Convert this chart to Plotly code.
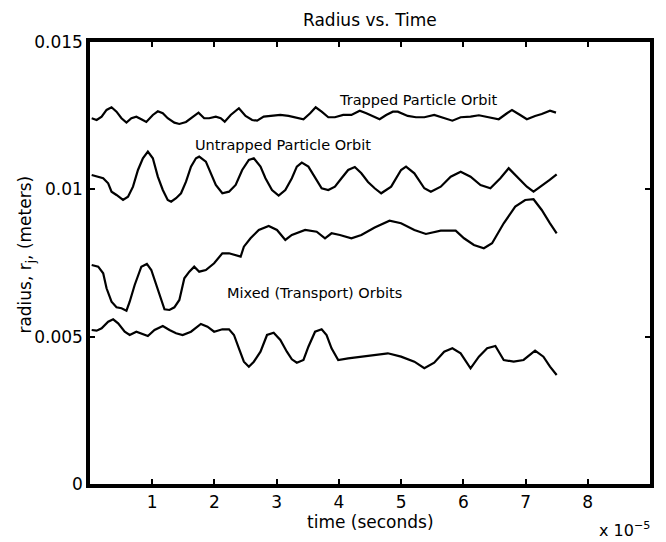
import plotly.graph_objects as go

# time in units of 1e-5 s, radius in meters
trapped_t = [0.027,0.107,0.187,0.266,0.346,0.426,0.506,0.586,0.665,0.745,0.825,0.905,1.010,1.090,1.170,1.249,1.356,1.436,1.543,1.648,1.744,1.835,1.915,2.022,2.101,2.165,2.261,2.393,2.500,2.606,2.686,2.792,2.925,3.059,3.191,3.298,3.431,3.538,3.627,3.723,3.830,3.936,4.069,4.201,4.335,4.441,4.548,4.655,4.760,4.867,4.947,5.106,5.239,5.373,5.532,5.665,5.824,5.957,6.116,6.250,6.435,6.569,6.702,6.782,6.914,7.021,7.153,7.260,7.393,7.489]
trapped_r = [0.012412,0.012354,0.012466,0.012694,0.012785,0.012636,0.012412,0.012263,0.012412,0.012466,0.012378,0.012286,0.012524,0.012649,0.012582,0.012412,0.012263,0.012218,0.012286,0.012446,0.012602,0.012412,0.012412,0.012466,0.012412,0.012297,0.012524,0.012751,0.012490,0.012354,0.012330,0.012466,0.012500,0.012524,0.012490,0.012446,0.012378,0.012582,0.012785,0.012636,0.012446,0.012446,0.012524,0.012524,0.012670,0.012582,0.012490,0.012378,0.012524,0.012636,0.012636,0.012490,0.012446,0.012446,0.012524,0.012446,0.012330,0.012446,0.012466,0.012514,0.012446,0.012378,0.012582,0.012694,0.012524,0.012378,0.012490,0.012558,0.012670,0.012602]

untrapped_t = [0.027,0.107,0.212,0.292,0.346,0.426,0.531,0.611,0.691,0.771,0.850,0.930,1.010,1.090,1.170,1.249,1.304,1.383,1.463,1.543,1.623,1.703,1.755,1.862,1.942,2.022,2.127,2.234,2.341,2.446,2.553,2.633,2.740,2.820,2.925,3.032,3.139,3.244,3.324,3.404,3.510,3.617,3.723,3.830,3.936,4.042,4.149,4.256,4.361,4.468,4.575,4.680,4.840,4.999,5.079,5.213,5.373,5.478,5.637,5.797,5.957,6.116,6.276,6.435,6.595,6.729,6.861,7.021,7.128,7.287,7.388,7.500]
untrapped_r = [0.010487,0.010430,0.010375,0.010206,0.009921,0.009809,0.009639,0.009751,0.010090,0.010657,0.011054,0.011278,0.011054,0.010430,0.009978,0.009639,0.009581,0.009697,0.009866,0.010260,0.010769,0.011054,0.011109,0.010939,0.010545,0.010148,0.009866,0.009921,0.010148,0.010657,0.010997,0.011054,0.010769,0.010375,0.009978,0.009785,0.009978,0.010375,0.010769,0.010905,0.010769,0.010375,0.010036,0.009978,0.010090,0.010375,0.010657,0.010759,0.010545,0.010250,0.010036,0.009866,0.010090,0.010657,0.010769,0.010545,0.010036,0.009921,0.010090,0.010430,0.010600,0.010430,0.010148,0.010036,0.010375,0.010715,0.010430,0.010090,0.009921,0.010148,0.010318,0.010511]

mixed_up_t = [0.027,0.132,0.212,0.266,0.346,0.426,0.506,0.586,0.638,0.718,0.825,0.914,0.985,1.064,1.144,1.197,1.277,1.356,1.436,1.516,1.596,1.675,1.755,1.862,1.995,2.127,2.234,2.341,2.421,2.473,2.580,2.713,2.872,3.005,3.139,3.244,3.458,3.643,3.777,3.882,4.016,4.201,4.361,4.575,4.814,4.999,5.213,5.398,5.637,5.877,6.011,6.170,6.330,6.462,6.649,6.834,6.994,7.128,7.260,7.393,7.500]
mixed_up_r = [0.007433,0.007375,0.007151,0.006642,0.006187,0.005997,0.005963,0.005882,0.006187,0.006754,0.007375,0.007467,0.007263,0.006754,0.006245,0.005929,0.005906,0.005997,0.006245,0.006981,0.007205,0.007375,0.007205,0.007263,0.007491,0.007830,0.007830,0.007772,0.007715,0.008054,0.008339,0.008621,0.008757,0.008621,0.008281,0.008451,0.008621,0.008563,0.008339,0.008509,0.008451,0.008339,0.008451,0.008706,0.008937,0.008848,0.008621,0.008485,0.008597,0.008597,0.008339,0.008112,0.008000,0.008169,0.008848,0.009412,0.009639,0.009663,0.009300,0.008848,0.008509]

mixed_lo_t = [0.027,0.107,0.187,0.292,0.372,0.452,0.558,0.638,0.745,0.825,0.930,1.037,1.170,1.277,1.383,1.489,1.623,1.782,1.888,1.995,2.127,2.234,2.314,2.393,2.473,2.553,2.633,2.740,2.845,2.952,3.059,3.164,3.244,3.324,3.431,3.510,3.617,3.723,3.802,3.882,3.989,4.149,4.361,4.575,4.787,4.999,5.213,5.373,5.532,5.692,5.824,5.957,6.116,6.250,6.383,6.515,6.649,6.809,6.968,7.153,7.287,7.393,7.500]
mixed_lo_r = [0.005227,0.005203,0.005284,0.005508,0.005590,0.005454,0.005169,0.005057,0.005169,0.005115,0.005023,0.005227,0.005363,0.005227,0.005115,0.005057,0.005169,0.005430,0.005339,0.005169,0.005250,0.005250,0.005057,0.004606,0.004151,0.003981,0.004151,0.004490,0.005057,0.005135,0.004887,0.004490,0.004232,0.004117,0.004209,0.004660,0.005169,0.005250,0.005057,0.004606,0.004209,0.004266,0.004321,0.004378,0.004436,0.004321,0.004151,0.003927,0.004117,0.004490,0.004606,0.004436,0.003927,0.004321,0.004606,0.004684,0.004209,0.004151,0.004209,0.004524,0.004321,0.003981,0.003699]

x_ticks = [1, 2, 3, 4, 5, 6, 7, 8]
y_ticks = [0, 0.005, 0.01, 0.015]
y_tick_text = ["0", "0.005", "0.01", "0.015"]

FONT = "DejaVu Sans"
line = dict(color="black", width=2.2)

fig = go.Figure()
for t, r in [(trapped_t, trapped_r), (untrapped_t, untrapped_r),
             (mixed_up_t, mixed_up_r), (mixed_lo_t, mixed_lo_r)]:
    fig.add_trace(go.Scatter(x=t, y=r, mode="lines", line=line,
                             showlegend=False, hoverinfo="skip"))

axis_common = dict(showline=True, linecolor="black", linewidth=3.5, mirror="ticks",
                   ticks="inside", ticklen=5, tickwidth=2, tickcolor="black",
                   showgrid=False, zeroline=False,
                   tickfont=dict(family=FONT, size=17, color="black"))

fig.update_xaxes(range=[0, 9], tickvals=x_ticks, ticktext=[str(v) for v in x_ticks],
                 **axis_common)
fig.update_yaxes(range=[0, 0.015], tickvals=y_ticks, ticktext=y_tick_text,
                 **axis_common)

ann_font = dict(family=FONT, size=14.5, color="black")
lab_font = dict(family=FONT, size=17, color="black")
annotations = [
    dict(x=5.28, y=0.01303, xref="x", yref="y", text="Trapped Particle Orbit",
         showarrow=False, font=ann_font, xanchor="center", yanchor="middle"),
    dict(x=3.096, y=0.01152, xref="x", yref="y", text="Untrapped Particle Orbit",
         showarrow=False, font=ann_font, xanchor="center", yanchor="middle"),
    dict(x=3.614, y=0.00647, xref="x", yref="y", text="Mixed (Transport) Orbits",
         showarrow=False, font=ann_font, xanchor="center", yanchor="middle"),
    dict(x=0.5, y=1.0498, xref="paper", yref="paper", text="Radius vs. Time",
         showarrow=False, font=lab_font, xanchor="center", yanchor="middle"),
    dict(x=0.5, y=-0.086, xref="paper", yref="paper", text="time (seconds)",
         showarrow=False, font=lab_font, xanchor="center", yanchor="middle"),
    dict(x=0.906, y=-0.104, xref="paper", yref="paper", text="x 10<sup>\u22125</sup>",
         showarrow=False, font=dict(family=FONT, size=16, color="black"),
         xanchor="left", yanchor="middle"),
    dict(x=-0.1135, y=0.52, xref="paper", yref="paper",
         text="radius, r<sub>j</sub>, (meters)", textangle=-90,
         showarrow=False, font=lab_font, xanchor="center", yanchor="middle"),
]

fig.update_layout(width=666, height=542, margin=dict(l=90, r=12, t=42, b=58),
                  paper_bgcolor="white", plot_bgcolor="white",
                  annotations=annotations, showlegend=False,
                  font=dict(family=FONT, color="black"))

fig.write_html("out.html")
